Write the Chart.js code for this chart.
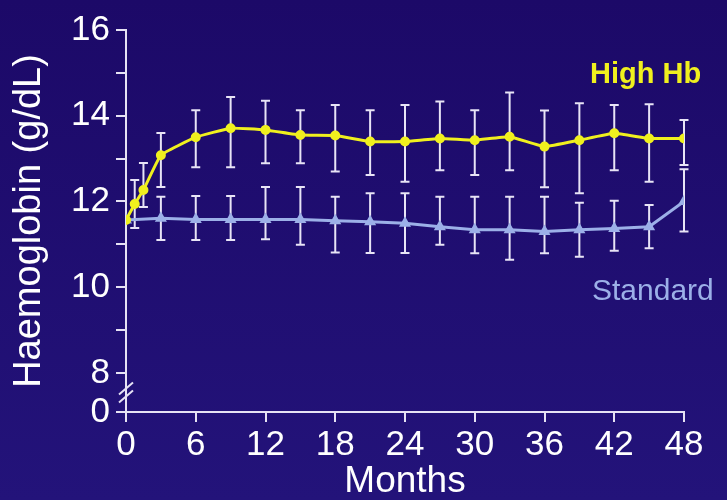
<!DOCTYPE html>
<html><head><meta charset="utf-8">
<script src="https://cdn.jsdelivr.net/npm/chart.js@4.4.1/dist/chart.umd.min.js"></script>
<style>html,body{margin:0;padding:0;background:#1c0a69;}#wrap{width:727px;height:500px;position:relative}</style>
</head><body><div id="wrap"><canvas id="c" width="727" height="500"></canvas></div>
<script>
// ---- data ----
const highMonths = [0, 0.75, 1.5, 3, 6, 9, 12, 15, 18, 21, 24, 27, 30, 33, 36, 39, 42, 45, 48];
const highMean   = [11.57, 11.94, 12.27, 13.08, 13.5, 13.71, 13.67, 13.55, 13.54, 13.4, 13.4, 13.47, 13.43, 13.51, 13.28, 13.43, 13.59, 13.47, 13.47];
const highUpper  = [null, 12.5, 12.9, 13.6, 14.13, 14.44, 14.35, 14.13, 14.25, 14.13, 14.25, 14.33, 14.13, 14.54, 14.12, 14.29, 14.25, 14.27, 13.9];
const highLower  = [null, 11.38, 11.87, 12.34, 12.8, 12.8, 12.89, 12.89, 12.7, 12.62, 12.46, 12.73, 12.62, 12.73, 12.33, 12.19, 12.73, 12.46, 12.85];

const stdMonths = [0, 3, 6, 9, 12, 15, 18, 21, 24, 27, 30, 33, 36, 39, 42, 45, 48];
const stdMean   = [11.57, 11.61, 11.58, 11.58, 11.58, 11.58, 11.55, 11.53, 11.49, 11.41, 11.34, 11.34, 11.3, 11.34, 11.37, 11.41, 12.0];
const stdUpper  = [null, 12.11, 12.13, 12.13, 12.34, 12.34, 12.11, 12.19, 12.19, 12.11, 12.11, 12.11, 12.11, 11.97, 12.02, 11.92, 12.75];
const stdLower  = [null, 11.1, 11.1, 11.1, 11.12, 10.99, 10.81, 10.8, 10.8, 10.99, 10.79, 10.64, 10.79, 10.71, 10.85, 10.91, 11.3];

const xTicks = [0, 6, 12, 18, 24, 30, 36, 42, 48];
const yTicks = [8, 9, 10, 11, 12, 13, 14, 15, 16];
const yLabelled = [8, 10, 12, 14, 16];
const BREAK_FLOOR = 7.09;   // position of the "0" label below the axis break
const seriesNames = ['High Hb', 'Standard'];

// ---- style ----
const FONT = '"Liberation Sans", Arial, sans-serif';
const AXIS = '#e6e2f4';
const YELLOW = '#f0f01e';
const BLUE = '#9cb0e8';
const BAR = '#e8e4f6';

const bgPlugin = {
  id: 'bg',
  beforeDraw(chart) {
    const c = chart.ctx;
    const g = c.createLinearGradient(0, 0, 0, chart.height);
    g.addColorStop(0, '#1c0968');
    g.addColorStop(1, '#23137a');
    c.save(); c.fillStyle = g; c.fillRect(0, 0, chart.width, chart.height); c.restore();
  }
};

const errPlugin = {
  id: 'errbars',
  beforeDatasetsDraw(chart) {
    const c = chart.ctx, xs = chart.scales.x, ys = chart.scales.y;
    const sets = [[highMonths, highUpper, highLower], [stdMonths, stdUpper, stdLower]];
    c.save();
    c.strokeStyle = BAR; c.lineWidth = 2;
    sets.forEach(([m, up, lo]) => {
      m.forEach((mo, i) => {
        if (up[i] == null) return;
        const x = xs.getPixelForValue(mo);
        const y1 = ys.getPixelForValue(up[i]);
        const y2 = ys.getPixelForValue(lo[i]);
        c.beginPath();
        c.moveTo(x, y1); c.lineTo(x, y2);
        c.moveTo(x - 4.5, y1); c.lineTo(x + 4.5, y1);
        c.moveTo(x - 4.5, y2); c.lineTo(x + 4.5, y2);
        c.stroke();
      });
    });
    c.restore();
  }
};

const decoPlugin = {
  id: 'deco',
  afterDraw(chart) {
    const c = chart.ctx, ys = chart.scales.y, xs = chart.scales.x;
    // axis break marks
    const cx = xs.getPixelForValue(0);
    const cy = ys.getPixelForValue((8 + BREAK_FLOOR) / 2);
    c.save();
    c.strokeStyle = AXIS; c.lineWidth = 2;
    [-4, 4].forEach(d => {
      c.beginPath();
      c.moveTo(cx - 7, cy + d + 6);
      c.lineTo(cx + 7, cy + d - 6);
      c.stroke();
    });
    // series labels
    c.textBaseline = 'alphabetic';
    c.textAlign = 'left';
    c.fillStyle = YELLOW;
    c.font = 'bold 29px ' + FONT;
    c.fillText(seriesNames[0], 590, 83);
    c.fillStyle = BLUE;
    c.font = '30px ' + FONT;
    c.fillText(seriesNames[1], 592, 300);
    c.restore();
  }
};

new Chart(document.getElementById('c'), {
  type: 'line',
  data: {
    datasets: [
      {
        label: seriesNames[0],
        data: highMonths.map((m, i) => ({ x: m, y: highMean[i] })),
        borderColor: YELLOW, backgroundColor: YELLOW,
        borderWidth: 3, pointRadius: 3.5, pointStyle: 'circle', tension: 0.1
      },
      {
        label: seriesNames[1],
        data: stdMonths.map((m, i) => ({ x: m, y: stdMean[i] })),
        borderColor: BLUE, backgroundColor: BLUE,
        borderWidth: 3, pointRadius: 4, pointStyle: 'triangle', tension: 0
      }
    ]
  },
  options: {
    responsive: false,
    animation: false,
    devicePixelRatio: 1,
    layout: { padding: { top: 30, right: 43, left: 0, bottom: 0 } },
    plugins: { legend: { display: false }, tooltip: { enabled: false } },
    scales: {
      x: {
        type: 'linear', min: 0, max: 48,
        afterBuildTicks: s => { s.ticks = xTicks.map(v => ({ value: v })); },
        afterFit: s => { s.height = 88; },
        border: { color: AXIS, width: 2 },
        grid: { drawOnChartArea: false, drawTicks: true, tickLength: 10, color: AXIS, lineWidth: 2 },
        ticks: { color: '#ffffff', font: { size: 35, family: FONT, lineHeight: 1 }, padding: 6, autoSkip: false, maxRotation: 0 },
        title: { display: true, text: 'Months', color: '#ffffff', font: { size: 37, family: FONT, lineHeight: 1 }, padding: { top: 0, bottom: 0 } }
      },
      y: {
        type: 'linear', min: BREAK_FLOOR, max: 16,
        afterBuildTicks: s => { s.ticks = [BREAK_FLOOR].concat(yTicks).map(v => ({ value: v })); },
        afterFit: s => { s.width = 126; },
        border: { color: AXIS, width: 2 },
        grid: { drawOnChartArea: false, drawTicks: true, tickLength: 10, color: AXIS, lineWidth: 2 },
        ticks: {
          color: '#ffffff', font: { size: 35, family: FONT }, padding: 6, autoSkip: false,
          callback: v => (Math.abs(v - BREAK_FLOOR) < 0.001 ? '0' : (yLabelled.includes(v) ? String(v) : ''))
        },
        title: { display: true, text: 'Haemoglobin (g/dL)', color: '#ffffff', font: { size: 38, family: FONT, lineHeight: 1 }, padding: { top: 11, bottom: 0 } }
      }
    }
  },
  plugins: [bgPlugin, errPlugin, decoPlugin]
});
</script>
</body></html>
